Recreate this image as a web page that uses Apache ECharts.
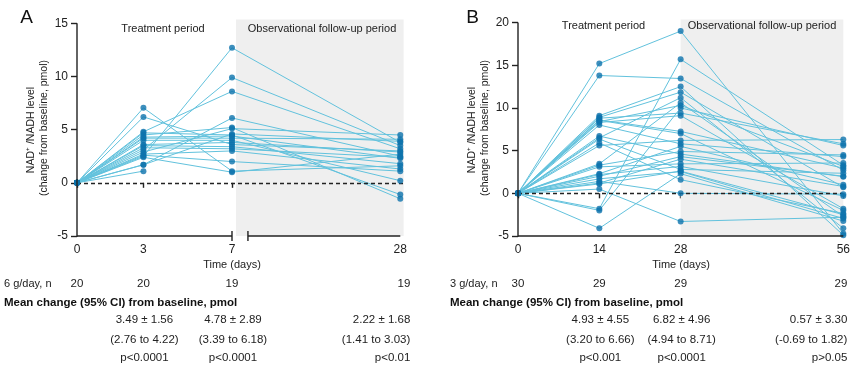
<!DOCTYPE html>
<html><head><meta charset="utf-8">
<script src="https://cdn.jsdelivr.net/npm/echarts@6/dist/echarts.min.js"></script>
<style>html,body{margin:0;padding:0;background:#fff}#c{width:865px;height:368px}</style>
</head><body><div id="c"></div>
<script>
// ---------- Panel A: 6 g/day (values per visit, index = subject) ----------
const aDays  = [0, 3, 7, 28];
const aDay0  = [0,0,0,0,0,0,0,0,0,0,0,0,0,0,0,0,0,0,0,0];
const aDay3  = [2.5, 3.1, 4.8, 1.7, 4.5, 2.9, 7.05, 6.2, 4.7, 4.3, 4.2, 4.0, 3.6, 3.5, 3.3, 2.7, 2.6, 2.4, 1.7, 1.1];
const aDay7  = [12.7, 9.9, 8.6, 6.1, 5.2, 5.1, 1.1, 3.6, 4.5, 4.4, 4.2, 4.0, 3.8, 3.4, 3.2, 3.0, 2.0, 1.0, 4.6, null];
const aDay28 = [3.8, 3.5, 3.2, 2.5, -1.5, 4.5, 1.6, 3.0, -1.1, 2.3, 4.1, 0.2, 2.9, 1.8, 2.4, 1.3, 1.1, 2.7, 3.9, null];
const aN     = ['20', '20', '19', '19'];
const aMean  = ['3.49 ± 1.56', '4.78 ± 2.89', '2.22 ± 1.68'];
const aCI    = ['(2.76 to 4.22)', '(3.39 to 6.18)', '(1.41 to 3.03)'];
const aP     = ['p<0.0001', 'p<0.0001', 'p<0.01'];

// ---------- Panel B: 3 g/day ----------
const bDays  = [0, 14, 28, 56];
const bDay0  = [0,0,0,0,0,0,0,0,0,0,0,0,0,0,0,0,0,0,0,0,0,0,0,0,0,0,0,0,0,0];
const bDay14 = [15.2, 13.8, 9.1, 8.9, 8.8, 8.6, 8.55, 8.4, 8.3, 8.0, 6.7, 6.5, 6.35, 5.9, 5.6, 3.45, 3.3, 3.1, 2.3, 2.2, 2.0, 1.7, 1.4, 1.2, 1.1, 0.5, -1.8, -2.0, -4.1, null];
const bDay28 = [19.0, 13.45, 12.5, 11.85, 9.4, 7.25, 7.0, 10.3, 9.1, 5.8, 4.6, 11.2, 2.8, 1.6, 6.2, 10.6, 4.9, 3.45, 5.5, 3.15, 4.3, 2.55, 0.0, 4.0, 2.6, -3.3, 15.7, 10.0, 2.3, null];
const bDay56 = [-4.7, 2.7, -4.9, 0.7, 5.8, 2.95, -2.0, 3.15, -1.8, 4.3, 1.95, -4.1, 2.35, -2.35, 6.3, -2.7, 4.5, 3.55, 1.0, -0.3, 2.0, -2.95, -0.1, 0.8, -2.5, -2.8, 3.3, 5.6, -3.25, null];
const bN     = ['30', '29', '29', '29'];
const bMean  = ['4.93 ± 4.55', '6.82 ± 4.96', '0.57 ± 3.30'];
const bCI    = ['(3.20 to 6.66)', '(4.94 to 8.71)', '(-0.69 to 1.82)'];
const bP     = ['p<0.001', 'p<0.0001', 'p>0.05'];

const aYTicks = [-5, 0, 5, 10, 15];
const bYTicks = [-5, 0, 5, 10, 15, 20];

// ---------- styling ----------
const FONT = '"Liberation Sans", Arial, Helvetica, sans-serif';
const LINE_C = '#62c2dd';
const DOT_C = '#0e73ad';
const AX_C = '#222';

// broken x scale for panel A: 0..7 linear, then gap, then 7..28 compressed
const A_BREAK_START = 7.72, A_END = 14.6, A_MAX = 14.75;
function aPos(d) { return d <= 7 ? d : A_BREAK_START + (d - 7) * (A_END - A_BREAK_START) / 21; }
function bPos(d) { return d; }

const chart = echarts.init(document.getElementById('c'), null, {renderer: 'canvas'});

function subjectSeries(visits, days, posFn, axisIdx) {
  const out = [];
  const n = visits[0].length;
  for (let s = 0; s < n; s++) {
    const pts = [];
    for (let v = 0; v < visits.length; v++) {
      const val = visits[v][s];
      if (val !== null && val !== undefined) pts.push([posFn(days[v]), val]);
    }
    out.push({
      type: 'line', xAxisIndex: axisIdx, yAxisIndex: axisIdx, data: pts,
      showSymbol: false, symbol: 'none', silent: true, clip: false, z: 3,
      lineStyle: {color: LINE_C, width: 1}
    });
  }
  const dots = [];
  for (let v = 0; v < visits.length; v++) {
    visits[v].forEach(val => { if (val !== null) dots.push([posFn(days[v]), val]); });
  }
  out.push({
    type: 'scatter', xAxisIndex: axisIdx, yAxisIndex: axisIdx, data: dots,
    symbol: 'circle', symbolSize: 6, silent: true, clip: false, z: 6,
    itemStyle: {color: DOT_C}
  });
  return out;
}

function frameSeries(axisIdx, segs, breaks, yTop) {
  return {
    type: 'custom', xAxisIndex: axisIdx, yAxisIndex: axisIdx, data: [[0, 0]], silent: true, clip: false, z: 8,
    renderItem: function (params, api) {
      const ch = [];
      const st = {stroke: AX_C, lineWidth: 1.4};
      const y0 = api.coord([0, -5]);
      const yt = api.coord([0, yTop]);
      ch.push({type: 'line', shape: {x1: y0[0], y1: y0[1] + 0.7, x2: yt[0], y2: yt[1]}, style: st});
      segs.forEach(sg => {
        const p1 = api.coord([sg[0], -5]), p2 = api.coord([sg[1], -5]);
        ch.push({type: 'line', shape: {x1: p1[0], y1: p1[1], x2: p2[0], y2: p2[1]}, style: st});
      });
      breaks.forEach(b => {
        const p = api.coord([b, -5]);
        ch.push({type: 'line', shape: {x1: p[0], y1: p[1] - 5, x2: p[0], y2: p[1] + 5}, style: st});
      });
      return {type: 'group', children: ch};
    }
  };
}

function bgSeries(axisIdx, shadeFrom, shadeTo) {
  return {
    type: 'line', xAxisIndex: axisIdx, yAxisIndex: axisIdx, data: [], silent: true, z: 1,
    markArea: {silent: true, itemStyle: {color: '#efefef'}, data: [[{xAxis: shadeFrom}, {xAxis: shadeTo}]]},
    markLine: {
      silent: true, symbol: 'none', label: {show: false},
      lineStyle: {color: AX_C, type: [4, 3], width: 1.3},
      data: [{yAxis: 0}]
    }
  };
}

function xAxisCfg(idx, posFn, days, max) {
  const vals = days.map(posFn);
  return {
    type: 'value', gridIndex: idx, min: 0, max: max,
    axisLine: {show: false}, splitLine: {show: false},
    axisTick: {show: true, customValues: vals, length: 5, lineStyle: {color: AX_C, width: 1.4}},
    axisLabel: {
      customValues: vals, margin: 8, color: AX_C, fontSize: 12, fontFamily: FONT,
      formatter: function (v) {
        let best = 0, bd = 1e9;
        vals.forEach((p, i) => { const d = Math.abs(p - v); if (d < bd) { bd = d; best = i; } });
        return String(days[best]);
      }
    }
  };
}
function yAxisCfg(idx, ticks, max) {
  return {
    type: 'value', gridIndex: idx, min: -5, max: max,
    axisLine: {show: false}, splitLine: {show: false},
    axisTick: {show: true, customValues: ticks, length: 6, lineStyle: {color: AX_C, width: 1.4}},
    axisLabel: {customValues: ticks, margin: 9, color: AX_C, fontSize: 12, fontFamily: FONT}
  };
}

const series = [].concat(
  [bgSeries(0, 7.18, A_MAX)],
  subjectSeries([aDay0, aDay3, aDay7, aDay28], aDays, aPos, 0),
  [frameSeries(0, [[0, 7], [A_BREAK_START, aPos(28)]], [7, A_BREAK_START], 15)],
  [bgSeries(1, 28, 56)],
  subjectSeries([bDay0, bDay14, bDay28, bDay56], bDays, bPos, 1),
  [frameSeries(1, [[0, 56]], [], 20)]
);

chart.setOption({
  animation: false,
  backgroundColor: '#fff',
  textStyle: {fontFamily: FONT},
  grid: [
    {left: 77, top: 19.6, width: 326.6, height: 216.4},
    {left: 518, top: 19.6, width: 325.3, height: 216.4}
  ],
  xAxis: [xAxisCfg(0, aPos, aDays, A_MAX), xAxisCfg(1, bPos, bDays, 56)],
  yAxis: [yAxisCfg(0, aYTicks, 15.35), yAxisCfg(1, bYTicks, 20.35)],
  series: series
});

// ---------- text annotations ----------
function T(text, x, y, opt) {
  opt = opt || {};
  return {
    type: 'text', x: x, y: y, rotation: opt.rot || 0, silent: true, z: 20,
    style: {
      text: text, x: 0, y: 0, fill: opt.color || AX_C,
      font: (opt.bold ? 'bold ' : '') + (opt.size || 11.5) + 'px ' + FONT,
      align: opt.align || 'center', verticalAlign: 'middle',
      textAlign: opt.align || 'center', textVerticalAlign: 'middle'
    }
  };
}
const px = (idx, x) => chart.convertToPixel({xAxisIndex: idx, yAxisIndex: idx}, [x, 0])[0];

const g = [];
function panelText(idx, days, posFn, nArr, mArr, ciArr, pArr, letter, letterX, yTitleX, doseLabel, leftX, lastOffset, tpX, tpY, ofX, timeX) {
  g.push(T(letter, letterX, 18, {size: 19, color: '#111'}));
  g.push(T('Treatment period', tpX, tpY, {size: 11}));
  g.push(T('Observational follow-up period', ofX, tpY, {size: 11}));
  g.push(T('NAD⁺ /NADH level', yTitleX, 130, {size: 10.5, rot: Math.PI / 2}));
  g.push(T('(change from baseline, pmol)', yTitleX + 13, 128, {size: 10.5, rot: Math.PI / 2}));
  g.push(T('Time (days)', timeX, 265, {size: 11}));
  g.push(T(doseLabel, leftX, 284, {size: 11, align: 'left'}));
  g.push(T('Mean change (95% CI) from baseline, pmol', leftX, 303, {size: 11.5, bold: true, align: 'left', color: '#111'}));
  const xs = days.map(d => px(idx, posFn(d)));
  nArr.forEach((t, i) => {
    if (i === 3) g.push(T(t, xs[i] + lastOffset, 284, {size: 11.5, align: 'right'}));
    else g.push(T(t, xs[i], 284, {size: 11.5}));
  });
  [mArr, ciArr, pArr].forEach((arr, r) => {
    const y = [320, 339.5, 358][r];
    arr.forEach((t, i) => {
      if (i === 2) g.push(T(t, xs[3] + lastOffset, y, {size: 11.5, align: 'right'}));
      else g.push(T(t, xs[i + 1] + 1, y, {size: 11.5}));
    });
  });
}
panelText(0, aDays, aPos, aN, aMean, aCI, aP, 'A', 26.5, 31, '6 g/day, n', 4, 10, 163, 29, 322, 232);
panelText(1, bDays, bPos, bN, bMean, bCI, bP, 'B', 472.5, 472, '3 g/day, n', 450, 4, 603.5, 26, 762, 681);

chart.setOption({graphic: g});
</script>
</body></html>
